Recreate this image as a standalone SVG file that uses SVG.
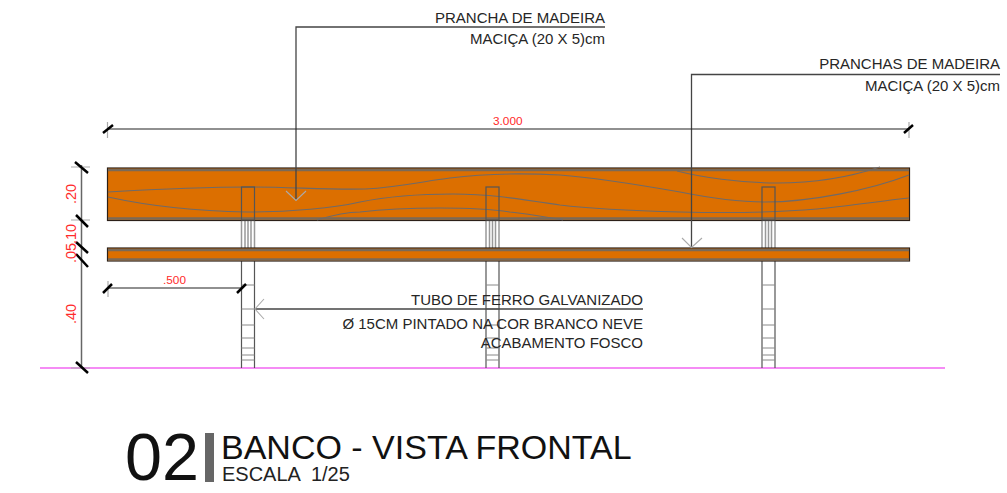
<svg xmlns="http://www.w3.org/2000/svg" width="1007" height="493" viewBox="0 0 1007 493">
<defs>
<style>
text{font-family:"Liberation Sans",Arial,sans-serif}
.lbl{font-size:15px;fill:#262626;text-anchor:end}
.red{font-size:11.8px;fill:#ff2a2a}
.redv{font-size:14.5px;fill:#ff2a2a}
.dim{fill:none;stroke:#666;stroke-width:1.5}
.ext{fill:none;stroke:#aaa;stroke-width:1.2}
.dimk{fill:none;stroke:#222;stroke-width:1.1}
.tick{fill:none;stroke:#000;stroke-width:2.5}
.lead{fill:none;stroke:#444;stroke-width:1.3}
.ah{fill:none;stroke:#aaa;stroke-width:1.1}
.grain{fill:none;stroke:#6f6a68;stroke-width:1.1}
.post{fill:none;stroke:#555;stroke-width:1.2}
.mid{fill:none;stroke:#999;stroke-width:1.5}
.rung{fill:none;stroke:#888;stroke-width:1}
.wood{fill:#dc6f00;stroke:#2c2018;stroke-width:1.2}
.edge{fill:none;stroke:#7a6a58;stroke-width:2.5}
</style>
</defs>
<rect width="1007" height="493" fill="#fff"/>
<g id="ground"><line x1="40" y1="368" x2="945" y2="368" stroke="#f266f2" stroke-width="1.4"/></g>

<g id="post-1">
<path class="mid" d="M241.500 220V248M245 220V248M248 220V248M251 220V248M254.500 220V248"/>
<path class="post" d="M241.500 261V368M254.500 261V368"/>
<path class="rung" d="M241.500 285H254.500M241.500 309H254.500M241.500 325H254.500M241.500 338H254.500M241.500 348H254.500M241.500 355H254.500M241.500 360H254.500"/>
</g>
<g id="post-2">
<path class="mid" d="M486 220V248M489.500 220V248M492.500 220V248M495.500 220V248M499 220V248"/>
<path class="post" d="M486 261V368M499 261V368"/>
<path class="rung" d="M486 285H499M486 309H499M486 325H499M486 338H499M486 348H499M486 355H499M486 360H499"/>
</g>
<g id="post-3">
<path class="mid" d="M762 220V248M765.500 220V248M768.500 220V248M771.500 220V248M775 220V248"/>
<path class="post" d="M762 261V368M775 261V368"/>
<path class="rung" d="M762 285H775M762 309H775M762 325H775M762 338H775M762 348H775M762 355H775M762 360H775"/>
</g>

<g id="plank-top">
<rect class="wood" x="107.500" y="168" width="802" height="52.500"/>
<path class="edge" d="M108 170H909M108 218.500H909"/>
<path class="grain" d="M108 192C160 189 210 187 250 187C290 187 330 190 365 189C400 187 425 181 450 178C480 174 520 173 560 175C600 178 640 185 680 192C710 198 735 202 765 202C810 202 870 190 909 175"/>
<path class="grain" d="M108 197C140 204 190 211 247 212C290 212 335 208 360 202C385 197 420 194 453 194C490 194 520 199 560 205C600 210 640 211 680 212C720 213 770 213 817 209C850 206 880 201 909 198"/>
<path class="grain" d="M317 220C330 216 345 212 360 212C385 209 410 208 440 208C470 208 490 209 510 212C530 214 545 217 563 220"/>
<path class="grain" d="M677 171C700 177 740 183 777 183C815 183 850 177 880 167"/>
<rect class="post" x="241.500" y="187" width="13" height="33"/>
<rect class="post" x="486" y="187" width="13" height="33"/>
<rect class="post" x="762" y="187" width="13" height="33"/>
</g>
<g id="plank-bottom">
<rect class="wood" x="107.500" y="248" width="802" height="13"/>
<path class="edge" d="M108 250H909M108 259.500H909"/>
</g>

<g id="connectors">
<path class="lead" d="M605 27H296V200"/>
<path class="ah" d="M286 191L296 200.500L306 191"/>
<path class="lead" d="M1000 74.500H691.500V247"/>
<path class="ah" d="M682 238L691.500 247.500L702 238"/>
<path class="lead" d="M643 309H255"/>
<path class="ah" d="M264 299L255 309L264 319"/>
<path class="dimk" d="M107 129H909"/>
<path class="ext" d="M107.500 122V138M909 122V138"/>
<path class="tick" d="M103 133L113 125M904 133L913 125"/>
<path class="dim" d="M81.500 165V368"/>
<path class="ext" d="M71 167H90M71 220H90M71 368H90"/>
<path class="tick" d="M75 162L88 173M76 215L88 227M76 242L88 253M76 254L88 267M76 362L88 373"/>
<path class="dimk" d="M107 288H241"/>
<path class="ext" d="M108 281V297"/>
<path class="tick" d="M103 293L112 284M237 293L246 284"/>
</g>

<g id="labels">
<text class="lbl" x="605" y="22.500">PRANCHA DE MADEIRA</text>
<text class="lbl" x="605" y="43.500">MACIÇA (20 X 5)cm</text>
<text class="lbl" x="1000" y="69">PRANCHAS DE MADEIRA</text>
<text class="lbl" x="1000" y="91">MACIÇA (20 X 5)cm</text>
<text class="lbl" x="643" y="305">TUBO DE FERRO GALVANIZADO</text>
<text class="lbl" x="643" y="329">Ø 15CM PINTADO NA COR BRANCO NEVE</text>
<text class="lbl" x="643" y="348">ACABAMENTO FOSCO</text>
<text class="red" x="493" y="125">3.000</text>
<text class="red" x="163" y="284">.500</text>
<text class="redv" transform="translate(76 204) rotate(-90)">.20</text>
<text class="redv" transform="translate(76 244) rotate(-90)">.10</text>
<text class="redv" transform="translate(76 263) rotate(-90)">.05</text>
<text class="redv" transform="translate(76 324) rotate(-90)">.40</text>
</g>

<g id="title">
<text x="125" y="480" font-size="66.500" fill="#111">02</text>
<rect x="205" y="433" width="9" height="49" fill="#666"/>
<text x="221" y="459" font-size="34" fill="#111">BANCO - VISTA FRONTAL</text>
<text x="222" y="481" font-size="20" fill="#222" xml:space="preserve">ESCALA  1/25</text>
</g>
</svg>
